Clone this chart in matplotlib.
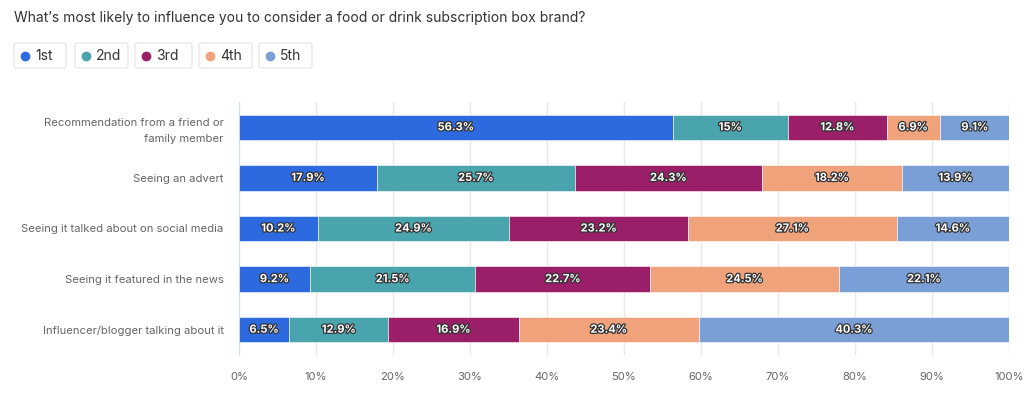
import numpy as np
import matplotlib.pyplot as plt
import matplotlib.patheffects as pe
from matplotlib.patches import FancyBboxPatch
from matplotlib.lines import Line2D

plt.rcParams['font.family'] = ['Inter', 'DejaVu Sans']

title = "What’s most likely to influence you to consider a food or drink subscription box brand?"
categories = ['Recommendation from a friend or\nfamily member',
              'Seeing an advert',
              'Seeing it talked about on social media',
              'Seeing it featured in the news',
              'Influencer/blogger talking about it']
ranks = ['1st', '2nd', '3rd', '4th', '5th']
first = [56.3, 17.9, 10.2, 9.2, 6.5]
second = [15, 25.7, 24.9, 21.5, 12.9]
third = [12.8, 24.3, 23.2, 22.7, 16.9]
fourth = [6.9, 18.2, 27.1, 24.5, 23.4]
fifth = [9.1, 13.9, 14.6, 22.1, 40.3]
colors = ['#2d6ae0', '#4aa4ad', '#9b1f68', '#f0a27b', '#799fd6']

series = [first, second, third, fourth, fifth]

fig = plt.figure(figsize=(10.24, 3.95), dpi=100)
ax = fig.add_axes([239/1024, 1-355/395, 770/1024, 253/395])

y = np.arange(len(categories))
left = np.zeros(len(categories))
for vals, c in zip(series, colors):
    vals = np.array(vals, dtype=float)
    ax.barh(y, vals, left=left, height=0.5, color=c, edgecolor='white', linewidth=0.4, zorder=3)
    for yi, l, v in zip(y, left, vals):
        t = ax.text(l + v/2, yi, f'{v:g}%', ha='center', va='center', color='white',
                    fontsize=8, fontweight='bold', zorder=4)
        t.set_path_effects([pe.withStroke(linewidth=1.8, foreground='#333333')])
    left += vals

ax.set_xlim(0, 100)
ax.set_ylim(4.5, -0.5)
ax.set_xticks(np.arange(0, 101, 10))
ax.set_xticklabels([f'{v}%' for v in range(0, 101, 10)])
ax.set_yticks(y)
ax.set_yticklabels(categories)
ax.tick_params(axis='both', length=0, colors='#666666', labelsize=8.1)
ax.tick_params(axis='y', pad=11)
ax.tick_params(axis='x', pad=12)
for lab in ax.get_yticklabels():
    lab.set_multialignment('right')
    lab.set_linespacing(1.7)
ax.grid(axis='x', color='#e8e8e8', linewidth=1, zorder=0)
for s in ['top', 'right', 'bottom']:
    ax.spines[s].set_visible(False)
ax.spines['left'].set_color('#d3def2')

fig.text(14/1024, 1-18/395, title, fontsize=10, color='#333333', va='center', ha='left')

# legend boxes
box_x = [14, 75, 135, 199, 259]
box_w = [52, 53, 57, 53, 53]
for bx, bw, lab, c in zip(box_x, box_w, ranks, colors):
    fig.patches.append(FancyBboxPatch((bx/1024, 1-68/395), bw/1024, 25/395,
                                      boxstyle='round,pad=0,rounding_size=0.004',
                                      transform=fig.transFigure, facecolor='white',
                                      edgecolor='#e3e3e3', linewidth=0.8))
    fig.lines.append(Line2D([(bx+11)/1024], [1-55.5/395], transform=fig.transFigure,
                            marker='o', markersize=6, color=c, linestyle='none'))
    fig.text((bx+21)/1024, 1-55.5/395, lab, fontsize=10, color='#333333', va='center', ha='left')

fig.savefig('out.png', dpi=100)
